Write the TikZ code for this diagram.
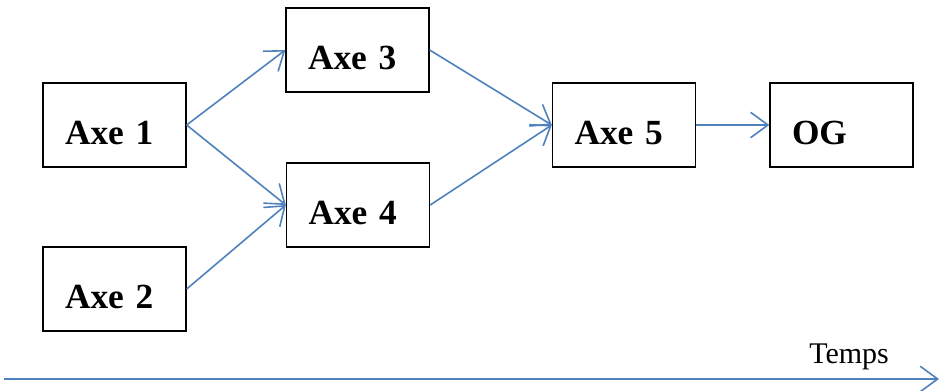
\documentclass[tikz,border=0pt]{standalone}
\usepackage{fontspec}
\setmainfont{Liberation Serif}
\usetikzlibrary{arrows.meta}
\definecolor{fleuve}{RGB}{79,129,189}

\begin{document}
\begin{tikzpicture}[x=0.75pt, y=-0.75pt,
        axe/.style = {draw, line width=1pt, minimum width=107.25pt, minimum height=63pt,
            inner xsep=16.5pt, inner ysep=0pt, text width=74.25pt, align=left,
            text height=28.5pt, text depth=0pt,
            font=\fontsize{26.5pt}{30pt}\selectfont\bfseries},
        fleche/.style = {draw=fleuve, line width=1.2pt, -{Straight Barb[length=13pt, width=19pt]}}]
        \useasboundingbox (0,0) rectangle (940,390);
        \node[axe] (a1) at (114.5,125) {Axe 1};
        \node[axe] (a2) at (114.5,289) {Axe 2};
        \node[axe] (a3) at (357.5,50) {Axe 3};
        \node[axe] (a4) at (358,205) {Axe 4};
        \node[axe] (a5) at (624,125) {Axe 5};
        \node[axe] (og) at (841.5,125) {OG};
        \foreach \s/\t in {a1/a3, a1/a4, a2/a4, a3/a5, a4/a5, a5/og}{
            \draw[fleche] (\s.east) -- (\t.west);
        }
        % time axis
        \coordinate (t0) at (4,379);
        \coordinate (t1) at (939,379);
        \draw[fleche] (t0) -- (t1);
        \node[anchor=base west, inner sep=0pt, font=\fontsize{22.5pt}{26pt}\selectfont] (temps) at (809,363) {Temps};
    \end{tikzpicture}
\end{document}
